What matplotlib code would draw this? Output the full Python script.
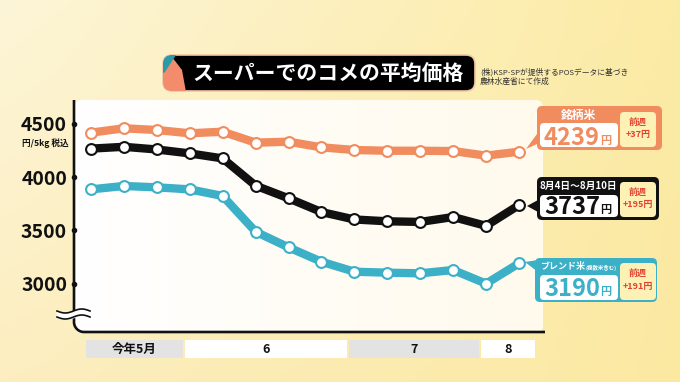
import matplotlib
matplotlib.use('Agg')
import matplotlib.pyplot as plt
import numpy as np
from matplotlib.patches import FancyBboxPatch, Rectangle, Polygon
import matplotlib.transforms as mtransforms

plt.rcParams['font.family'] = ['Noto Sans CJK JP', 'DejaVu Sans']

# ---------------- data ----------------
weeks = list(range(14))
brand = [4418, 4459, 4443, 4412, 4427, 4324, 4333, 4280, 4255, 4248, 4248, 4245, 4202, 4239]
average = [4268, 4285, 4260, 4223, 4176, 3920, 3801, 3672, 3602, 3585, 3579, 3625, 3542, 3737]
blend = [3885, 3917, 3904, 3885, 3823, 3487, 3340, 3205, 3111, 3102, 3096, 3127, 2999, 3190]
month_labels = ['今年5月', '6', '7', '8']
month_weeks = [3, 5, 4, 2]
yticks = [3000, 3500, 4000, 4500]
title = 'スーパーでのコメの平均価格'
source = ['(株)KSP-SPが提供するPOSデータに基づき', '農林水産省にて作成']
unit_label = '円/5kg 税込'
latest_period = '8月4日～8月10日'
brand_name = '銘柄米'
blend_name = 'ブレンド米'
blend_note = '(複数米含む)'
prev_label = '前週'

# ---------------- style ----------------
ORANGE = '#F08C5E'
BLUE = '#3BB0C7'
BLACK = '#111111'
RED = '#E2412E'
SUBY = '#FDF1B6'

W, H = 680, 382
fig = plt.figure(figsize=(W / 100, H / 100), dpi=100)

# background overlay (pixel coordinates)
bg = fig.add_axes([0, 0, 1, 1], zorder=0)
yy, xx = np.mgrid[0:1:96j, 0:1:170j]
tl = np.array([253, 245, 215]) / 255
tr = np.array([252, 235, 165]) / 255
bl = np.array([252, 238, 192]) / 255
br = np.array([251, 233, 162]) / 255
img = (tl * ((1 - xx) * (1 - yy))[..., None] + tr * (xx * (1 - yy))[..., None]
       + bl * ((1 - xx) * yy)[..., None] + br * (xx * yy)[..., None])
bg.imshow(img, extent=[0, W, H, 0], aspect='auto', interpolation='bilinear')
bg.set_xlim(0, W)
bg.set_ylim(H, 0)
bg.axis('off')

# white panel
panel = FancyBboxPatch((74, 100), 469, 233, boxstyle='round,pad=0,rounding_size=8',
                       fc='white', ec='none', zorder=1)
bg.add_patch(panel)
pg = np.linspace(0, 1, 100)[:, None]
pimg = np.ones((1, 100, 3))
pimg[0, :, :] = (1 - pg) * np.array([1, 1, 1]) + pg * np.array([255, 250, 236]) / 255
im2 = bg.imshow(pimg, extent=[74, 543, 333, 100], aspect='auto', zorder=2)
im2.set_clip_path(panel)
bg.set_xlim(0, W)
bg.set_ylim(H, 0)

# ---------------- data axes ----------------
ax = fig.add_axes([74 / W, 1 - 333 / H, (543 - 74) / W, (333 - 100) / H], zorder=1)
ax.patch.set_alpha(0)
ax.set_xlim(-0.516, 13.73)
ax.set_ylim(2535, 4725)
for s in ax.spines.values():
    s.set_visible(False)
ax.set_xticks([])
ax.set_yticks(yticks)
ax.set_yticklabels([str(t) for t in yticks], fontsize=14, fontweight='bold', color=BLACK)
ax.tick_params(axis='y', length=0, pad=5)

for vals, col in [(brand, ORANGE), (average, BLACK), (blend, BLUE)]:
    ax.plot(weeks, vals, color=col, lw=6.0, solid_joinstyle='round', solid_capstyle='round',
            marker='o', ms=7.8, mfc='white', mec=col, mew=1.5, zorder=3)

# tick dots on the spine
ax.scatter([0] * len(yticks), yticks, s=9, color=BLACK, transform=ax.get_yaxis_transform(),
           clip_on=False, zorder=5)

# month bands below
trans = mtransforms.blended_transform_factory(ax.transData, bg.transData)
starts = np.cumsum([0] + month_weeks[:-1])
n = len(weeks)
for k, (lab, st) in enumerate(zip(month_labels, starts)):
    left = st - 0.15
    right = (starts[k + 1] - 0.22) if k + 1 < len(starts) else n - 0.5
    col = '#E3E3E3' if k % 2 == 0 else 'white'
    ax.add_patch(Rectangle((left, 340), right - left, 18, transform=trans, fc=col, ec='none',
                           clip_on=False, zorder=1))
    ax.text((left + right) / 2, 349.5, lab, transform=trans, ha='center', va='center',
            fontsize=9, fontweight='bold', color=BLACK, clip_on=False)

# ---------------- top overlay ----------------
ov = fig.add_axes([0, 0, 1, 1], zorder=2)
ov.set_xlim(0, W)
ov.set_ylim(H, 0)
ov.axis('off')
ov.patch.set_alpha(0)

# spine with rounded corner
t = np.linspace(np.pi, np.pi / 2, 20)
cx, cy, r = 84, 322, 10
arc_x = cx + r * np.cos(t)
arc_y = cy + r * np.sin(t)
sx = np.concatenate([[74], arc_x, [545]])
sy = np.concatenate([[100], arc_y, [332]])
ov.plot(sx, sy, color=BLACK, lw=1.9, solid_capstyle='butt', zorder=3)

# break marker
wx = np.linspace(57, 90, 60)
w1 = 311 + 2.0 * np.sin((wx - 57) / 33 * 2 * np.pi)
w2 = 317 + 2.0 * np.sin((wx - 57) / 33 * 2 * np.pi)
ov.fill_between(wx, w1, w2, color='white', zorder=4)
ov.plot(wx, w1, color=BLACK, lw=1.2, zorder=5)
ov.plot(wx, w2, color=BLACK, lw=1.2, zorder=5)

# unit label
ov.text(45, 143, unit_label, ha='center', va='center', fontsize=6.2, fontweight='bold', color=BLACK)

# title
tb = FancyBboxPatch((163, 55), 312, 36, boxstyle='round,pad=0,rounding_size=9',
                    fc='black', ec='#F1C7A5', lw=1.2, zorder=3)
ov.add_patch(tb)
leaf = Polygon([(160, 62), (172, 57), (182, 70), (186, 92), (160, 92)], closed=True,
               fc='#F28C6C', ec='none', zorder=4)
ov.add_patch(leaf)
leaf.set_clip_path(tb)
teal = Polygon([(160, 52), (178, 52), (165, 72), (160, 75)], closed=True, fc='#2A9BA6', ec='none', zorder=5)
ov.add_patch(teal)
teal.set_clip_path(tb)
ov.text(328, 74, title, ha='center', va='center', fontsize=15, fontweight='bold', color='white', zorder=6)
ov.text(480, 72, source[0], ha='left', va='center', fontsize=5.6, color='#333333')
ov.text(480, 82, source[1], ha='left', va='center', fontsize=5.6, color='#333333')


def label_box(x0, y0, x1, y1, col, iy0, iy1, sy0, sy1, vals, numcol, numbase, pointer):
    ov.add_patch(Polygon(pointer, closed=True, fc=col, ec='none', zorder=3))
    ov.add_patch(FancyBboxPatch((x0, y0), x1 - x0, y1 - y0, boxstyle='round,pad=0,rounding_size=5',
                                fc=col, ec='none', zorder=3))
    ov.add_patch(FancyBboxPatch((540, iy0), 78, iy1 - iy0, boxstyle='round,pad=0,rounding_size=4',
                                fc='white', ec='none', zorder=4))
    ov.add_patch(FancyBboxPatch((620, sy0), 36, sy1 - sy0, boxstyle='round,pad=0,rounding_size=4',
                                fc=SUBY, ec='none', zorder=4))
    latest = vals[-1]
    diff = vals[-1] - vals[-2]
    ov.text(600, numbase, f'{latest}', ha='right', va='baseline', fontsize=17, fontweight='bold',
            color=numcol, zorder=5)
    ov.text(600, numbase - 1, '円', ha='left', va='baseline', fontsize=8, fontweight='bold',
            color=numcol, zorder=5)
    ov.text(638, sy0 + 10, prev_label, ha='center', va='center', fontsize=6.5, fontweight='bold',
            color=RED, zorder=5)
    ov.text(638, sy0 + 23, f'{diff:+d}円', ha='center', va='center', fontsize=6.5,
            fontweight='bold', color=RED, zorder=5)


# brand (orange)
label_box(537, 106, 662, 150, ORANGE, 123, 147, 112, 147, brand, ORANGE, 145,
          [(537, 134), (537, 144), (526, 149)])
ov.text(578, 115, brand_name, ha='center', va='center', fontsize=8.5, fontweight='bold',
        color='white', zorder=5)
# average (black)
label_box(537, 177, 659, 220, BLACK, 195, 217, 182, 217, average, BLACK, 214,
          [(538, 200), (538, 212), (527, 206)])
ov.text(578, 185.5, latest_period, ha='center', va='center', fontsize=7, fontweight='bold',
        color='white', zorder=5)
# blend (blue)
label_box(535, 258, 657, 302, BLUE, 275, 300, 263, 300, blend, BLUE, 296,
          [(538, 260), (538, 272), (525, 262)])
ov.text(540, 267, blend_name, ha='left', va='center', fontsize=6.5, fontweight='bold',
        color='white', zorder=5)
ov.text(586, 268, blend_note, ha='left', va='center', fontsize=3.9, fontweight='bold',
        color='white', zorder=5)

fig.savefig('out.png', dpi=100)
